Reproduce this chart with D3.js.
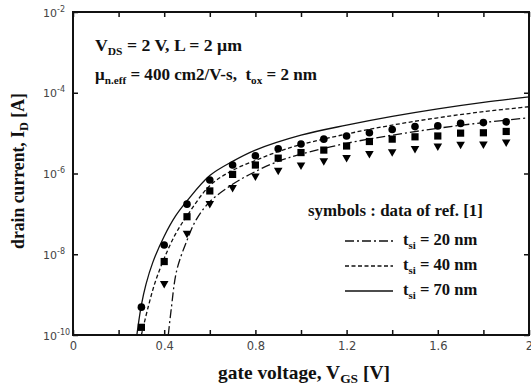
<!DOCTYPE html>
<html><head><meta charset="utf-8">
<script src="https://cdn.jsdelivr.net/npm/d3@7"></script>
<style>
html,body{margin:0;padding:0;background:#fff;}
svg{display:block;}
text{white-space:pre;}
</style></head>
<body>
<svg id="chart" width="531" height="387"></svg>
<script>
// ---- data ----
const xTicks = [0, 0.2, 0.4, 0.6, 0.8, 1.0, 1.2, 1.4, 1.6, 1.8, 2.0];
const xTickLabels = ["0", "", "0.4", "", "0.8", "", "1.2", "", "1.6", "", "2"];
const yTickExps = [-2, -4, -6, -8, -10];

// symbols : data of ref. [1]
const vgsSymbols = [0.3,0.4,0.5,0.6,0.7,0.8,0.9,1.0,1.1,1.2,1.3,1.4,1.5,1.6,1.7,1.8,1.9];
const idCircles = [4.9e-10,1.7e-8,1.74e-7,6.9e-7,1.62e-6,2.75e-6,4.1e-6,5.4e-6,7.1e-6,8.5e-6,1.02e-5,1.23e-5,1.45e-5,1.51e-5,1.74e-5,1.82e-5,1.9e-5];
const idSquares = [1.55e-10,6.6e-9,8.5e-8,3.7e-7,9.5e-7,1.62e-6,2.4e-6,3.3e-6,3.8e-6,4.8e-6,6.2e-6,7.1e-6,8.1e-6,8.5e-6,1.0e-5,1.02e-5,1.1e-5];
const vgsTriangles = [0.4,0.5,0.6,0.7,0.8,0.9,1.0,1.1,1.2,1.3,1.4,1.5,1.6,1.7,1.8,1.9];
const idTriangles = [1.8e-9,3.2e-8,1.74e-7,4.3e-7,8.3e-7,1.15e-6,1.55e-6,2.0e-6,2.4e-6,3.0e-6,3.3e-6,4.0e-6,4.6e-6,5.1e-6,5.2e-6,5.8e-6];

// model curves
const vgs70 = [0.28,0.29,0.3,0.32,0.35,0.4,0.45,0.5,0.6,0.7,0.8,1.0,1.2,1.4,1.6,1.8,2.0];
const id70  = [1e-10,2.5e-10,5.6e-10,1.8e-9,6.3e-9,2.8e-8,8.9e-8,2.1e-7,8.9e-7,2.0e-6,3.8e-6,8.9e-6,1.58e-5,2.6e-5,4.0e-5,5.8e-5,7.9e-5];
const vgs40 = [0.30,0.33,0.36,0.4,0.45,0.5,0.6,0.7,0.8,0.9,1.0,1.2,1.4,1.6,1.8,2.0];
const id40  = [1e-10,5.0e-10,2.0e-9,7.9e-9,3.2e-8,8.9e-8,5.0e-7,1.2e-6,2.1e-6,3.5e-6,5.2e-6,9.5e-6,1.58e-5,2.4e-5,3.4e-5,4.5e-5];
const vgs20 = [0.418,0.43,0.455,0.5,0.54,0.6,0.7,0.8,0.9,1.0,1.2,1.4,1.6,1.8,2.0];
const id20  = [1e-10,4.0e-10,4.0e-9,2.2e-8,7.1e-8,2.0e-7,5.4e-7,1.12e-6,2.0e-6,3.0e-6,5.6e-6,8.9e-6,1.32e-5,1.82e-5,2.4e-5];

const legendLabels = ["20 nm", "40 nm", "70 nm"];
const legendDash = ["9,3,2,3", "4,2.5", null];

// ---- layout ----
const L = 73, R = 529, T = 12, B = 335;
const svg = d3.select("#chart");
const x = d3.scaleLinear().domain([0, 2]).range([L, R]);
const y = d3.scaleLog().domain([1e-10, 1e-2]).range([B, T]);
const serif = "'Liberation Serif','Times New Roman',serif";
const sans = "'DejaVu Sans',Verdana,sans-serif";
const ink = "#111";

function fit(sel, target, ax) {
  const w = sel.node().getBBox().width;
  const s = target / w;
  sel.attr("transform", `translate(${ax},0) scale(${s},1) translate(${-ax},0)`);
}
function richText(sel, parts, subSize) {
  let shifted = false;
  parts.forEach(p => {
    if (p.sub) {
      sel.append("tspan").attr("font-size", subSize).attr("dy", 4).text(p.sub);
      shifted = true;
    } else {
      const ts = sel.append("tspan").text(p.t);
      if (shifted) { ts.attr("dy", -4); shifted = false; }
    }
  });
}

// ---- axes (inward ticks) ----
const gx = svg.append("g").attr("transform", `translate(0,${B})`)
  .call(d3.axisBottom(x).tickValues(xTicks).tickSizeInner(-5).tickSizeOuter(0).tickPadding(7)
    .tickFormat((d, i) => xTickLabels[i]));
gx.select(".domain").remove();
gx.selectAll("line").attr("stroke", ink).attr("stroke-width", 1.5);
gx.selectAll("text").attr("font-family", sans).attr("font-size", 11.5).attr("fill", "#444");

const gt = svg.append("g").attr("transform", `translate(0,${T})`)
  .call(d3.axisTop(x).tickValues(xTicks).tickSizeInner(-5).tickSizeOuter(0).tickFormat(""));
gt.select(".domain").remove();
gt.selectAll("text").remove();
gt.selectAll("line").attr("stroke", ink).attr("stroke-width", 1.5);

const yTickVals = yTickExps.map(e => Math.pow(10, e));
const gy = svg.append("g").attr("transform", `translate(${L},0)`)
  .call(d3.axisLeft(y).tickValues(yTickVals).tickSizeInner(-5).tickSizeOuter(0).tickFormat(""));
gy.select(".domain").remove();
gy.selectAll("line").attr("stroke", ink).attr("stroke-width", 1.5);
gy.selectAll(".tick text").each(function(d, i) {
  const t = d3.select(this).attr("x", 43 - L).attr("dy", "0.38em").attr("text-anchor", "start")
    .attr("font-family", sans).attr("font-size", 11).attr("fill", "#444");
  t.append("tspan").text("10");
  t.append("tspan").attr("font-size", 8).attr("dy", -5).text(String(yTickExps[i]));
});

const gr = svg.append("g").attr("transform", `translate(${R},0)`)
  .call(d3.axisRight(y).tickValues(yTickVals).tickSizeInner(-5).tickSizeOuter(0).tickFormat(""));
gr.select(".domain").remove();
gr.selectAll("text").remove();
gr.selectAll("line").attr("stroke", ink).attr("stroke-width", 1.5);

// frame
svg.append("rect").attr("x", L).attr("y", T).attr("width", R - L).attr("height", B - T)
  .attr("fill", "none").attr("stroke", ink).attr("stroke-width", 2);

// ---- curves ----
const line = d3.line().x(d => x(d[0])).y(d => y(d[1])).curve(d3.curveCatmullRom.alpha(0.5));
const curves = [
  {v: vgs20, i: id20, dash: legendDash[0]},
  {v: vgs40, i: id40, dash: legendDash[1]},
  {v: vgs70, i: id70, dash: legendDash[2]}
];
curves.forEach(c => {
  svg.append("path").datum(c.v.map((v, k) => [v, c.i[k]]))
    .attr("d", line).attr("fill", "none").attr("stroke", "#111").attr("stroke-width", 1.3)
    .attr("stroke-dasharray", c.dash);
});

// ---- symbols ----
svg.append("g").selectAll("circle").data(vgsSymbols).join("circle")
  .attr("cx", d => x(d)).attr("cy", (d, k) => y(idCircles[k])).attr("r", 3.8).attr("fill", "#000");
svg.append("g").selectAll("rect").data(vgsSymbols).join("rect")
  .attr("x", d => x(d) - 3.6).attr("y", (d, k) => y(idSquares[k]) - 3.6)
  .attr("width", 7.2).attr("height", 7.2).attr("fill", "#000");
svg.append("g").selectAll("path").data(vgsTriangles).join("path")
  .attr("transform", (d, k) => `translate(${x(d)},${y(idTriangles[k])})`)
  .attr("d", "M-4.3,-3.2L4.3,-3.2L0,4.3Z").attr("fill", "#000");

// ---- annotations ----
const t1 = svg.append("text").attr("x", 95).attr("y", 51).attr("font-family", serif)
  .attr("font-weight", "bold").attr("font-size", 17).attr("fill", ink);
richText(t1, [{t: "V"}, {sub: "DS"}, {t: " = 2 V, L = 2 \u03BCm"}], 11);
fit(t1, 147, 95);

const t2 = svg.append("text").attr("x", 95).attr("y", 80).attr("font-family", serif)
  .attr("font-weight", "bold").attr("font-size", 16).attr("fill", ink);
richText(t2, [{t: "\u03BC"}, {sub: "n.eff"}, {t: " = 400 cm2/V-s,  t"}, {sub: "ox"}, {t: " = 2 nm"}], 10.5);
fit(t2, 223, 95);

// legend
const lh = svg.append("text").attr("x", 308).attr("y", 216).attr("font-family", serif)
  .attr("font-weight", "bold").attr("font-size", 16).attr("fill", ink).text("symbols : data of ref. [1]");
fit(lh, 175, 308);
const legY = [245, 270, 295];
legendLabels.forEach((lab, k) => {
  svg.append("line").attr("x1", 345).attr("x2", 393).attr("y1", legY[k] - 4).attr("y2", legY[k] - 4)
    .attr("stroke", "#111").attr("stroke-width", 1.3).attr("stroke-dasharray", legendDash[k]);
  const tt = svg.append("text").attr("x", 403).attr("y", legY[k]).attr("font-family", serif)
    .attr("font-weight", "bold").attr("font-size", 16).attr("fill", ink);
  richText(tt, [{t: "t"}, {sub: "si"}, {t: " = " + lab}], 10.5);
  fit(tt, 75, 403);
});

// axis titles
const xl = svg.append("text").attr("x", 304).attr("y", 379).attr("text-anchor", "middle")
  .attr("font-family", serif).attr("font-weight", "bold").attr("font-size", 18).attr("fill", ink);
richText(xl, [{t: "gate voltage, V"}, {sub: "GS"}, {t: " [V]"}], 12.5);
fit(xl, 172, 304);

const yg = svg.append("g").attr("transform", "translate(24,171) rotate(-90)");
const yl = yg.append("text").attr("x", 0).attr("y", 0).attr("text-anchor", "middle")
  .attr("font-family", serif).attr("font-weight", "bold").attr("font-size", 18).attr("fill", ink);
richText(yl, [{t: "drain current, I"}, {sub: "D"}, {t: " [A]"}], 12.5);
fit(yl, 156, 0);
</script>
</body></html>
